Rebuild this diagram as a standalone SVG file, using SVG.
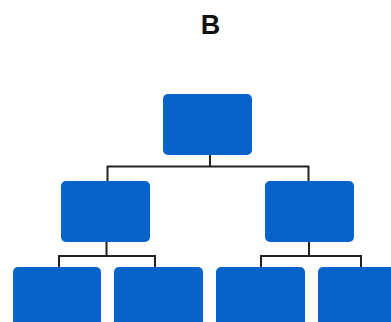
<svg xmlns="http://www.w3.org/2000/svg" width="391" height="322" viewBox="0 0 391 322">
<style>
.node{fill:#0563c9;}
.conn{fill:none;stroke:#222;stroke-width:2;}
.title{font-family:"Liberation Sans",Arial,sans-serif;font-weight:bold;font-size:27px;fill:#111;text-anchor:middle;}
</style>
<rect width="391" height="322" fill="#fff"/>
<text class="title" x="210.5" y="33.5">B</text>
<g id="connectors">
<path class="conn" d="M210,155 V166.5 M107.5,181 V166.5 H308.5 V181"/>
<path class="conn" d="M106.5,242 V256 M59,267 V256 H155 V267"/>
<path class="conn" d="M309,242 V256 M261,267 V256 H361 V267"/>
</g>
<g id="n0"><rect class="node" x="163" y="94" width="89" height="61" rx="5"/></g>
<g id="n1"><rect class="node" x="61" y="181" width="89" height="61" rx="5"/></g>
<g id="n2"><rect class="node" x="265" y="181" width="89" height="61" rx="5"/></g>
<g id="n3"><rect class="node" x="13" y="267" width="88" height="61" rx="5"/></g>
<g id="n4"><rect class="node" x="114" y="267" width="89" height="61" rx="5"/></g>
<g id="n5"><rect class="node" x="216" y="267" width="89" height="61" rx="5"/></g>
<g id="n6"><rect class="node" x="318" y="267" width="89" height="61" rx="5"/></g>
</svg>
